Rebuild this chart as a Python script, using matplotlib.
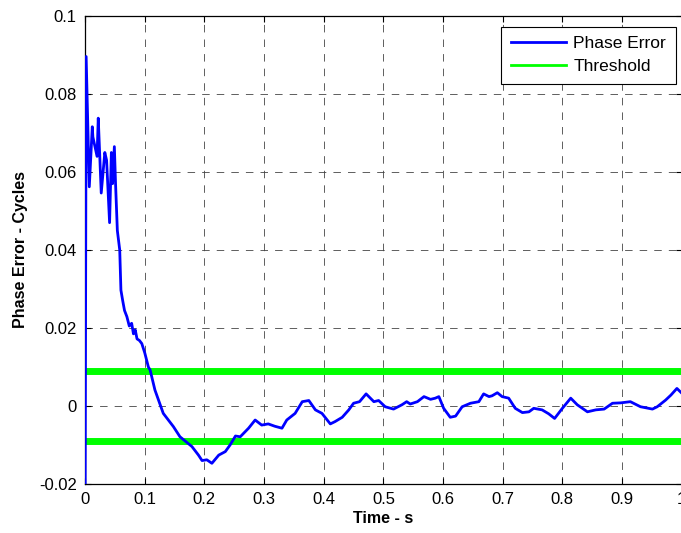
import matplotlib
matplotlib.use("Agg")
import matplotlib.pyplot as plt

plt.rcParams['font.family'] = ['Liberation Sans', 'DejaVu Sans']

# Phase error trace (time in s, error in cycles)
time_s = [0.0, 0.0017, 0.007, 0.012, 0.013, 0.020, 0.022, 0.027, 0.033, 0.036,
          0.041, 0.044, 0.046, 0.049, 0.051, 0.054, 0.058, 0.060, 0.063, 0.066,
          0.070, 0.074, 0.078, 0.081, 0.084, 0.087, 0.091, 0.095, 0.100, 0.106,
          0.109, 0.117, 0.131, 0.148, 0.159, 0.179, 0.190, 0.196, 0.204, 0.2125,
          0.224, 0.235, 0.243, 0.252, 0.260, 0.274, 0.285, 0.296, 0.307, 0.318,
          0.330, 0.338, 0.352, 0.364, 0.375, 0.386, 0.397, 0.411, 0.419, 0.431,
          0.442, 0.450, 0.460, 0.471, 0.484, 0.492, 0.503, 0.517, 0.531, 0.539,
          0.545, 0.557, 0.568, 0.579, 0.587, 0.593, 0.601, 0.612, 0.621, 0.632,
          0.646, 0.660, 0.668, 0.677, 0.682, 0.691, 0.699, 0.710, 0.721, 0.733,
          0.744, 0.752, 0.766, 0.777, 0.787, 0.800, 0.814, 0.825, 0.842, 0.856,
          0.870, 0.884, 0.898, 0.914, 0.931, 0.951, 0.959, 0.973, 0.982, 0.992,
          1.0]
phase_err = [-0.03, 0.0896, 0.0562, 0.0716, 0.069, 0.064, 0.0738, 0.0546, 0.065, 0.063,
             0.047, 0.065, 0.057, 0.0665, 0.057, 0.045, 0.040, 0.0297, 0.027, 0.0245,
             0.0229, 0.0205, 0.0212, 0.0185, 0.0195, 0.0172, 0.0168, 0.016, 0.0136, 0.010,
             0.0092, 0.0041, -0.0019, -0.0053, -0.0079, -0.0104, -0.0126, -0.014, -0.0138, -0.0147,
             -0.0126, -0.0117, -0.010, -0.0077, -0.0079, -0.0057, -0.0036, -0.0049, -0.0046, -0.0052,
             -0.0057, -0.0036, -0.0019, 0.0011, 0.0014, -0.001, -0.0019, -0.0046, -0.004, -0.0029,
             -0.001, 0.0007, 0.0011, 0.0031, 0.0011, 0.0014, -0.0002, -0.0008, 0.0003, 0.0011,
             0.0005, 0.0011, 0.0024, 0.0017, 0.002, 0.0024, -0.0006, -0.0029, -0.0026, -0.0002,
             0.0007, 0.0011, 0.0031, 0.0024, 0.0026, 0.0034, 0.0024, 0.002, -0.0006, -0.0017,
             -0.0015, -0.0006, -0.001, -0.002, -0.0032, -0.0006, 0.002, 0.0003, -0.0015, -0.001,
             -0.0008, 0.0007, 0.0008, 0.0011, -0.0002, -0.0008, -0.0002, 0.0015, 0.0028, 0.0045,
             0.0033]

threshold = 0.009

x_ticks = [0, 0.1, 0.2, 0.3, 0.4, 0.5, 0.6, 0.7, 0.8, 0.9, 1.0]
x_tick_labels = ['0', '0.1', '0.2', '0.3', '0.4', '0.5', '0.6', '0.7', '0.8', '0.9', '1']
y_ticks = [-0.02, 0, 0.02, 0.04, 0.06, 0.08, 0.1]
y_tick_labels = ['-0.02', '0', '0.02', '0.04', '0.06', '0.08', '0.1']

fig = plt.figure(figsize=(6.81, 5.33), dpi=100)
ax = fig.add_axes([0.125, 0.092, 0.876, 0.878])

ax.plot(time_s, phase_err, color='#0000ff', lw=2.0, label='Phase Error', zorder=3)
ax.axhline(threshold, color='#00ff00', lw=5.0, label='Threshold', zorder=2)
ax.axhline(-threshold, color='#00ff00', lw=5.0, zorder=2)

ax.set_xlim(0, 1)
ax.set_ylim(-0.02, 0.1)
ax.set_xticks(x_ticks)
ax.set_xticklabels(x_tick_labels)
ax.set_yticks(y_ticks)
ax.set_yticklabels(y_tick_labels)
ax.tick_params(direction='in', length=4, width=0.8, labelsize=12, top=True, right=True,
               pad=6)

ax.grid(True, color='#444444', linestyle=(0, (9, 8.5)), linewidth=0.6)
for s in ax.spines.values():
    s.set_linewidth(0.9)

ax.set_xlabel('Time - s', fontsize=11.5, fontweight='bold', labelpad=3)
ax.set_ylabel('Phase Error - Cycles', fontsize=11.5, fontweight='bold', labelpad=8)

leg = ax.legend(loc='upper right', bbox_to_anchor=(0.990, 0.977), fontsize=12.5,
                frameon=True, fancybox=False, edgecolor='black', framealpha=1,
                borderaxespad=0.0, handlelength=3.2, handletextpad=0.4,
                borderpad=0.55, labelspacing=0.45)
leg.get_frame().set_linewidth(0.8)
for h in leg.get_lines():
    h.set_linewidth(2.0)

fig.savefig('out.png', dpi=100)
